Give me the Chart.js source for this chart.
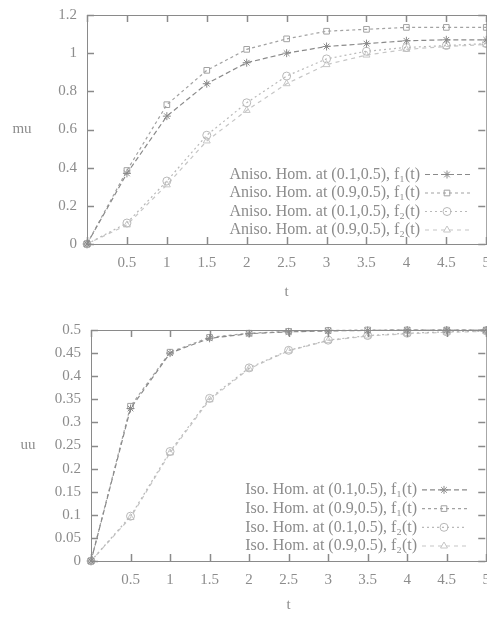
<!DOCTYPE html>
<html>
<head>
<meta charset="utf-8">
<script src="https://cdn.jsdelivr.net/npm/chart.js@4.4.1/dist/chart.umd.min.js"></script>
<style>
  html, body { margin: 0; padding: 0; background: #fff; overflow: hidden; width: 487px; height: 618px; }
  .box { position: absolute; left: 0; width: 500px; }
  #top { top: -4px; height: 309px; }
  #bottom { top: 310px; height: 308px; }
</style>
</head>
<body>
<div class="box" id="top"><canvas id="anisoChart"></canvas></div>
<div class="box" id="bottom"><canvas id="isoChart"></canvas></div>
<script>
// time samples (shared by every curve)
const times = [0, 0.5, 1, 1.5, 2, 2.5, 3, 3.5, 4, 4.5, 5];
const tickTimes = [0, 0.5, 1, 1.5, 2, 2.5, 3, 3.5, 4, 4.5, 5];

// anisotropic, top panel
const anisoF1At01 = [0, 0.37, 0.67, 0.84, 0.95, 1.0, 1.035, 1.05, 1.065, 1.07, 1.07];
const anisoF1At09 = [0, 0.385, 0.73, 0.91, 1.02, 1.075, 1.115, 1.125, 1.135, 1.135, 1.135];
const anisoF2At01 = [0, 0.11, 0.33, 0.57, 0.74, 0.88, 0.97, 1.01, 1.03, 1.04, 1.05];
const anisoF2At09 = [0, 0.1, 0.31, 0.54, 0.7, 0.84, 0.94, 0.99, 1.02, 1.035, 1.045];

// isotropic, bottom panel
const isoF1At01 = [0, 0.33, 0.45, 0.482, 0.492, 0.496, 0.498, 0.499, 0.5, 0.5, 0.5];
const isoF1At09 = [0, 0.335, 0.452, 0.484, 0.493, 0.497, 0.499, 0.5, 0.5, 0.5, 0.5];
const isoF2At01 = [0, 0.097, 0.237, 0.352, 0.418, 0.456, 0.478, 0.488, 0.493, 0.496, 0.498];
const isoF2At09 = [0, 0.094, 0.234, 0.349, 0.416, 0.455, 0.477, 0.487, 0.492, 0.495, 0.497];

const anisoTicks = [0, 0.2, 0.4, 0.6, 0.8, 1, 1.2];
const isoTicks = [0, 0.05, 0.1, 0.15, 0.2, 0.25, 0.3, 0.35, 0.4, 0.45, 0.5];

const anisoLabels = [
  "Aniso. Hom. at (0.1,0.5), f\u2081(t)",
  "Aniso. Hom. at (0.9,0.5), f\u2081(t)",
  "Aniso. Hom. at (0.1,0.5), f\u2082(t)",
  "Aniso. Hom. at (0.9,0.5), f\u2082(t)",
];
const isoLabels = [
  "Iso. Hom. at (0.1,0.5), f\u2081(t)",
  "Iso. Hom. at (0.9,0.5), f\u2081(t)",
  "Iso. Hom. at (0.1,0.5), f\u2082(t)",
  "Iso. Hom. at (0.9,0.5), f\u2082(t)",
];

const FONT = "'Liberation Serif', 'DejaVu Serif', serif";
const TEXT = "#8c8c8c";
const AXIS = "#8a8a8a";

// look of the four curves (same in both panels)
const styles = [
  { color: "#8a8a8a", dash: [5, 3], point: "star" },
  { color: "#a2a2a2", dash: [3, 3], point: "rect" },
  { color: "#b9b9b9", dash: [2, 3], point: "circle" },
  { color: "#c6c6c6", dash: [4, 4], point: "triangle" },
];

function makeDatasets(series, labels) {
  return series.map((values, i) => ({
    label: labels[i],
    data: times.map((t, j) => ({ x: t, y: values[j] })),
    borderColor: styles[i].color,
    borderDash: styles[i].dash,
    borderWidth: 1.2,
    pointStyle: styles[i].point,
    pointRadius: 4,
    pointBorderWidth: 1,
    pointBorderColor: styles[i].color,
    pointBackgroundColor: "rgba(0,0,0,0)",
    tension: 0,
    clip: false,
  }));
}

// frame + gnuplot style inward ticks + flat y title + legend inside the frame
const framePlugin = {
  id: "frame",
  afterDraw(chart, args, opts) {
    const { ctx, chartArea: a } = chart;
    const xs = chart.scales.x;
    const ys = chart.scales.y;
    ctx.save();
    ctx.strokeStyle = AXIS;
    ctx.lineWidth = 1;
    ctx.setLineDash([]);
    ctx.strokeRect(a.left + 0.5, a.top + 0.5, a.right - a.left, a.bottom - a.top);

    // inward tick marks on all four sides
    ctx.lineWidth = 1.5;
    tickTimes.forEach((v) => {
      const x = Math.round(xs.getPixelForValue(v)) + 0.5;
      ctx.beginPath();
      ctx.moveTo(x, a.bottom);
      ctx.lineTo(x, a.bottom - 7);
      ctx.moveTo(x, a.top);
      ctx.lineTo(x, a.top + 7);
      ctx.stroke();
    });
    opts.yTicks.forEach((v) => {
      const y = Math.round(ys.getPixelForValue(v)) + 0.5;
      ctx.beginPath();
      ctx.moveTo(a.left, y);
      ctx.lineTo(a.left + 7, y);
      ctx.moveTo(a.right - 1, y);
      ctx.lineTo(a.right - 8, y);
      ctx.stroke();
    });

    // y title, written flat as in the original
    ctx.fillStyle = TEXT;
    ctx.font = "15px " + FONT;
    ctx.textAlign = "center";
    ctx.textBaseline = "middle";
    ctx.fillText(opts.yTitle, opts.yTitleX, (a.top + a.bottom) / 2);

    // legend, bottom right inside the frame
    const ds = chart.data.datasets;
    ctx.font = "16px " + FONT;
    ds.forEach((d, i) => {
      const y = a.bottom - opts.legendGap - (ds.length - 1 - i) * opts.legendStep;
      ctx.fillStyle = TEXT;
      ctx.textAlign = "right";
      ctx.fillText(d.label, opts.legendTextX, y);
      ctx.strokeStyle = d.borderColor;
      ctx.lineWidth = 1.2;
      ctx.setLineDash(d.borderDash);
      ctx.beginPath();
      ctx.moveTo(opts.legendTextX + 5, y);
      ctx.lineTo(opts.legendTextX + 50, y);
      ctx.stroke();
      ctx.setLineDash([]);
      ctx.lineWidth = 1;
      ctx.fillStyle = "rgba(0,0,0,0)";
      Chart.helpers.drawPoint(ctx, { pointStyle: d.pointStyle, radius: 4, rotation: 0, borderWidth: 1 },
        opts.legendTextX + 27, y);
    });
    ctx.restore();
  },
};

function makeChart(id, datasets, cfg) {
  return new Chart(document.getElementById(id), {
    type: "line",
    data: { datasets },
    options: {
      responsive: true,
      maintainAspectRatio: false,
      animation: false,
      layout: { padding: { top: cfg.padTop, right: cfg.padRight, left: 0, bottom: 0 } },
      plugins: {
        legend: { display: false },
        tooltip: { enabled: false },
        frame: cfg.frame,
      },
      scales: {
        x: {
          type: "linear",
          min: 0,
          max: 5,
          afterFit: (s) => { s.height = cfg.xHeight; },
          afterBuildTicks: (s) => { s.ticks = tickTimes.map((v) => ({ value: v })); },
          grid: { display: false, drawTicks: false },
          border: { display: false },
          ticks: {
            padding: 10,
            color: TEXT,
            font: { family: FONT, size: 15 },
            maxRotation: 0,
            autoSkip: false,
            callback: (v) => (v === 0 ? "" : String(v)),
          },
          title: {
            display: true,
            text: "t",
            color: TEXT,
            font: { family: FONT, size: 15 },
            padding: { bottom: cfg.tPad },
          },
        },
        y: {
          min: 0,
          max: cfg.yMax,
          afterFit: (s) => { s.width = cfg.yWidth; },
          afterBuildTicks: (s) => { s.ticks = cfg.frame.yTicks.map((v) => ({ value: v })); },
          grid: { display: false, drawTicks: false },
          border: { display: false },
          ticks: {
            padding: 10,
            color: TEXT,
            font: { family: FONT, size: 15 },
            autoSkip: false,
            callback: (v) => String(v),
          },
        },
      },
    },
    plugins: [framePlugin],
  });
}

makeChart("anisoChart",
  makeDatasets([anisoF1At01, anisoF1At09, anisoF2At01, anisoF2At09], anisoLabels), {
    padTop: 18, padRight: 13, xHeight: 61, yWidth: 87, yMax: 1.2, tPad: 4,
    frame: { yTicks: anisoTicks, yTitle: "mu", yTitleX: 22, legendTextX: 420, legendGap: 14, legendStep: 18.5 },
  });

makeChart("isoChart",
  makeDatasets([isoF1At01, isoF1At09, isoF2At01, isoF2At09], isoLabels), {
    padTop: 20, padRight: 9, xHeight: 57, yWidth: 91, yMax: 0.5, tPad: 4,
    frame: { yTicks: isoTicks, yTitle: "uu", yTitleX: 28, legendTextX: 417, legendGap: 15, legendStep: 18.7 },
  });
</script>
</body>
</html>
